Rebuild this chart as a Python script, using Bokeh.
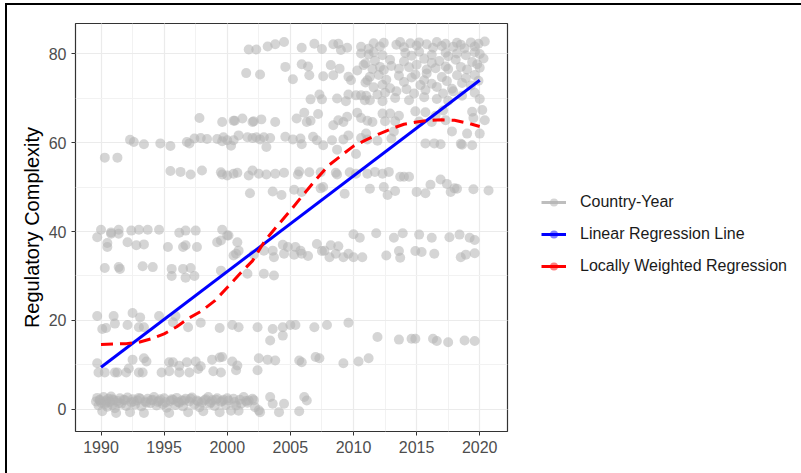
from bokeh.plotting import figure
from bokeh.models import Range1d, SingleIntervalTicker, Legend, LegendItem, ColumnDataSource
from bokeh.embed import file_html
from bokeh.resources import INLINE

# ---------------- data ----------------
# band near 0-3
yrs_a = [1989.6,1989.7,1989.8,1989.9,1990.0,1990.1,1990.2,1990.3,1990.4,1990.5,
         1990.6,1990.7,1990.8,1990.9,1991.0,1991.1,1991.2,1991.3,1991.5,1991.6,
         1991.8,1992.0,1992.1,1992.3,1992.4,1992.5,1992.7,1992.9,1993.0,1993.2,
         1993.4,1993.5,1993.7,1993.9,1994.0,1994.2,1994.4,1994.5,1994.7,1994.9,
         1995.0,1995.2,1995.4,1995.5,1995.7,1995.9,1996.0,1996.2,1996.4,1996.5,
         1996.7,1996.9,1997.0,1997.2,1997.4,1997.6,1997.8,1998.0,1998.1,1998.3,
         1998.5,1998.6,1998.8,1999.0,1999.2,1999.4,1999.5,1999.7,1999.9,2000.1,
         2000.3,2000.5,2000.7,2000.9,2001.1,2001.3,2001.5,2001.7,2002.0,2002.2,
         2002.5,2002.6,2003.4,2003.6,2004.1,2004.5,2005.7,2006.1,2006.3]
vals_a = [1.8,2.6,0.9,2.2,1.5,-0.4,2.8,1.2,2.0,0.6,
          2.4,1.7,2.9,1.0,2.1,0.3,-0.8,1.9,2.5,1.3,
          2.2,0.8,2.7,-0.6,1.6,2.3,1.1,2.0,2.6,0.7,
          -0.8,1.8,2.4,1.4,2.1,2.8,0.9,1.7,2.3,1.2,
          2.5,0.4,-0.8,1.9,2.2,1.0,2.6,1.5,2.0,0.7,
          2.4,-0.6,1.8,2.7,1.1,2.0,0.5,1.6,-0.4,2.3,
          2.8,1.3,2.1,0.8,2.5,-0.6,1.7,2.2,1.0,2.0,
          -0.3,2.4,0.9,-0.3,1.3,2.8,1.9,2.0,2.4,0.5,
          -0.2,-0.6,2.8,1.3,-0.6,1.3,-0.4,2.8,2.0]
yrs_a2 = [1989.9,1990.4,1990.9,1991.4,1991.9,1992.6,1993.1,1993.6,1994.1,1994.6,
          1995.1,1995.6,1996.1,1996.6,1997.1,1997.7,1998.2,1998.7,1999.1,1999.6,
          2000.0,2000.6,2001.0,2001.6,2002.1]
vals_a2 = [2.0,1.6,2.3,1.4,2.1,1.8,2.4,1.5,2.2,1.9,
           1.6,2.3,1.7,2.0,2.4,1.8,2.1,1.6,2.2,1.9,
           2.5,1.7,2.2,1.5,2.1]
# band near 8-12
yrs_b = [1989.7,1989.8,1990.3,1991.1,1991.3,1992.0,1992.2,1992.5,1993.0,1993.3,
         1993.4,1993.6,1994.8,1995.4,1995.4,1995.7,1996.2,1996.2,1996.8,1997.0,
         1997.5,1997.7,1997.9,1998.8,1998.9,1999.4,1999.6,1999.5,2000.4,2000.7,
         2000.8,2002.4,2002.5,2003.2,2003.8,2005.7,2005.9,2007.0,2007.3,2009.2,
         2010.4,2011.2]
vals_b = [10.4,8.3,8.3,8.3,8.3,8.3,9.2,11.2,8.3,8.3,
          11.5,10.8,8.3,10.6,8.6,10.6,9.8,8.3,10.6,8.3,
          10.8,9.1,9.7,11.2,8.6,11.7,11.8,8.3,10.8,8.8,
          9.9,8.8,11.5,11.2,11.0,11.0,10.6,11.8,11.5,10.4,
          10.8,11.5]
# band near 15-21
yrs_c = [1989.7,1990.1,1990.4,1991.0,1991.1,1992.1,1992.5,1993.0,1993.1,1993.4,
         1994.6,1995.7,1995.9,1996.9,1997.9,1999.4,2000.4,2000.9,2002.4,2003.4,
         2003.6,2004.4,2004.4,2005.0,2005.4,2006.9,2007.9,2009.6,2011.9,2013.6,
         2014.6,2014.9,2016.3,2016.6,2017.5,2018.8,2019.6]
vals_c = [21.0,18.1,18.3,21.0,19.3,19.0,21.7,18.5,20.7,18.5,
          21.0,19.6,21.0,18.5,19.5,18.3,19.0,18.5,18.5,15.5,
          18.1,18.5,16.6,19.0,19.0,18.5,19.0,19.5,16.3,15.7,
          15.9,15.9,15.9,15.4,15.1,15.5,15.4]
# band near 30-32
yrs_d = [1990.3,1991.4,1991.5,1993.3,1994.1,1995.6,1995.6,1996.5,1996.7,1997.1,
         1997.4,1999.5,2001.6,2002.9,2003.7]
vals_d = [31.8,32.0,31.6,32.2,32.0,31.6,30.0,31.6,29.6,31.8,
          30.0,31.2,30.5,30.5,30.1]
# band near 34-41
yrs_e = [1989.7,1990.0,1990.5,1990.5,1990.8,1990.8,1991.4,1991.4,1992.1,1992.4,
         1992.8,1993.0,1993.4,1993.7,1994.6,1995.3,1996.2,1996.5,1996.7,1996.7,
         1997.5,1997.6,1999.2,1999.5,1999.6,2000.0,2000.1,2000.5,2000.7,2000.8,
         2000.9,2002.1,2002.9,2003.6,2003.7,2004.4,2004.5,2004.8,2005.3,2005.4,
         2005.8,2005.9,2006.4,2007.1,2007.5,2007.7,2008.1,2008.2,2008.6,2008.8,
         2009.2,2009.6,2010.0,2010.0,2010.5,2010.7,2011.8,2012.6,2013.2,2013.6,
         2013.7,2013.9,2014.9,2015.2,2015.4,2016.2,2016.4,2017.6,2018.4,2018.5,
         2018.9,2019.2,2019.6,2019.6]
vals_e = [38.7,40.4,36.5,37.4,39.8,39.5,40.4,39.5,37.6,40.2,
          36.9,40.4,37.1,40.4,40.4,36.5,39.7,36.5,40.2,36.9,
          40.2,36.5,37.6,38.0,40.4,39.1,39.1,34.6,35.0,37.6,
          35.7,34.8,35.7,35.7,34.2,37.0,35.0,36.5,34.8,36.5,
          35.7,35.0,34.5,37.2,35.6,35.7,34.2,36.9,35.0,36.7,
          34.2,35.0,34.2,39.4,38.6,34.2,39.6,34.6,38.6,35.6,
          34.1,39.6,35.6,39.3,35.4,38.6,35.0,38.7,39.3,34.2,
          34.8,38.6,38.1,35.1]
# band near 48-54
yrs_f = [1995.5,1996.3,1997.1,1998.0,1999.6,1999.5,2000.0,2000.5,2000.8,2001.7,
         2001.8,2002.0,2002.5,2003.1,2003.6,2003.8,2004.3,2004.5,2005.3,2005.6,
         2005.7,2005.9,2006.5,2007.4,2007.4,2007.6,2008.6,2008.7,2009.3,2009.7,
         2010.2,2011.1,2011.3,2011.7,2012.3,2012.4,2012.7,2012.8,2013.3,2013.7,
         2014.0,2014.4,2015.0,2015.7,2016.1,2016.9,2017.4,2017.7,2018.0,2018.2,
         2019.5,2020.7]
vals_f = [53.6,53.4,52.8,53.7,52.8,53.3,52.6,53.0,53.2,52.6,
          48.6,53.7,53.0,52.8,49.0,53.0,48.2,53.2,49.4,52.8,
          53.5,48.9,53.3,53.3,49.7,50.0,53.2,52.8,48.5,53.3,
          53.0,53.0,49.6,53.4,53.0,50.0,48.2,53.4,49.1,52.3,
          52.3,52.3,48.9,48.6,50.5,51.7,50.7,48.9,49.7,49.6,
          49.5,49.2]
# band near 56-62
yrs_g = [1990.3,1991.3,1992.3,1992.6,1993.4,1994.7,1995.5,1996.8,1997.0,1997.4,
         1997.9,1998.4,1999.2,1999.6,1999.7,2000.0,2000.3,2000.5,2000.9,2001.6,
         2002.0,2002.3,2002.6,2002.9,2003.1,2003.4,2004.6,2005.2,2005.8,2005.9,
         2006.8,2007.1,2007.6,2008.3,2008.7,2009.2,2009.6,2010.2,2010.6,2011.0,
         2011.1,2011.9,2013.0,2013.2,2015.7,2016.4,2016.9,2017.8,2018.5,2018.6,
         2019.0,2019.4,2020.0]
vals_g = [56.6,56.6,60.6,60.1,59.6,59.8,59.2,60.1,59.8,60.9,
          61.0,60.8,60.8,60.3,61.2,60.5,59.3,60.5,61.6,61.2,
          61.0,61.2,60.7,61.2,59.0,61.0,61.3,60.7,60.9,59.6,
          61.3,60.5,59.4,60.5,58.4,60.7,61.6,57.4,61.0,62.0,
          60.7,60.4,60.9,62.5,59.8,59.8,59.6,62.5,59.7,59.5,
          62.0,59.4,62.0]
# band near 63-67
yrs_h = [1997.8,1999.6,2000.5,2000.6,2001.2,2002.0,2002.1,2002.7,2003.8,2005.5,
         2006.1,2006.3,2006.6,2007.2,2008.4,2008.8,2009.2,2009.5,2010.3,2010.6,
         2011.1,2011.5,2012.3,2012.5,2012.9,2013.3,2013.6,2014.9,2015.2,2015.7,
         2016.2,2016.5,2017.1,2017.3,2019.4,2019.5,2020.2,2020.4]
vals_h = [65.5,64.6,64.9,64.9,65.4,64.6,64.8,65.2,64.6,65.4,
          66.7,64.6,64.9,66.4,63.9,65.0,64.6,65.8,66.7,65.5,
          64.9,64.6,66.5,64.8,66.5,64.8,66.0,67.0,64.7,66.8,
          64.6,66.0,67.2,65.0,66.9,65.5,67.3,65.0]
# band near 68-72
yrs_i = [2006.6,2007.3,2007.5,2008.7,2009.4,2009.6,2010.2,2010.6,2010.9,2011.0,
         2011.3,2011.9,2012.3,2012.5,2013.3,2013.4,2014.4,2014.8,2015.6,2015.7,
         2016.6,2017.1,2017.5,2017.9,2018.6,2019.6,2020.0]
vals_i = [69.7,70.8,69.7,69.9,69.3,70.8,70.6,70.6,69.5,70.5,
          69.5,70.8,69.3,71.2,70.0,71.5,69.5,71.0,70.2,71.8,
          69.8,71.0,69.4,71.5,70.5,71.2,69.8]
# band near 72-79
yrs_j = [2001.5,2002.6,2004.6,2005.2,2005.9,2006.4,2006.5,2007.6,2008.2,2008.4,
         2008.9,2009.6,2009.8,2010.3,2010.8,2011.1,
         2010.95,2011.5,2011.7,2012.1,2012.4,2012.9,2013.0,2013.6,2014.0,2014.4,
         2015.0,2015.6,2015.8,2016.2,2016.5,2016.8,2017.3,2017.5,2018.1,2018.5,
         2019.0,2019.4,2019.8,2020.0,2020.3,
         2010.95,2011.3,2011.6,2012.0,2012.3,2012.6,2012.9,2013.6,2014.0,2014.2,
         2014.6,2014.9,2015.3,2015.6,2015.8,2016.2,2016.6,2017.0,2017.4,2017.8,
         2018.2,2018.6,2018.9,2019.3,2019.6,2019.9]
vals_j = [75.6,75.3,77.0,74.2,77.6,77.1,75.1,74.9,77.4,75.1,
          76.6,74.8,74.0,76.2,77.4,74.0,
          77.8,76.5,78.4,77.0,76.3,78.6,77.2,76.6,78.2,76.9,
          77.5,78.8,76.4,77.9,76.7,78.3,77.1,76.5,78.6,77.0,
          76.4,78.1,77.6,76.8,78.9,
          73.5,74.8,72.4,75.2,73.0,74.1,72.2,75.0,73.6,72.0,
          74.6,75.3,72.9,74.0,75.5,73.2,72.5,74.7,73.8,72.1,
          75.1,73.4,74.5,72.8,75.2,73.9]
# band near 79-83
yrs_k = [2001.7,2002.3,2003.2,2003.8,2004.5,2005.9,2006.9,2007.5,2008.4,2008.8,
         2009.0,2009.5,2010.6,2010.6,2011.2,
         2011.6,2012.1,2012.4,2013.4,2013.7,2014.0,2014.5,2015.0,2015.2,2015.8,
         2016.3,2016.6,2017.0,2017.3,2017.9,2018.2,2018.5,2018.8,2019.3,2019.6,
         2019.9,2020.4,
         2011.2,2011.6,2012.3,2014.1,2014.6,2015.2,2016.2,2017.3,2017.5,2018.2,
         2018.9,2019.6,2020.0]
vals_k = [80.9,80.9,81.6,82.1,82.6,81.3,82.2,81.0,82.1,82.2,
          80.8,81.3,81.5,80.0,81.1,
          82.3,81.6,82.4,82.0,82.6,81.4,82.3,81.8,82.5,82.1,
          81.3,82.6,81.7,82.2,81.5,82.4,82.0,81.2,82.5,81.6,
          82.2,82.7,
          79.8,80.3,79.6,80.1,79.5,80.4,79.7,80.2,79.4,80.0,
          79.6,80.3,79.9]

# linear regression line (end points)
lm_years = [1990, 2020]
lm_values = [9.5, 74.0]

# locally weighted regression curve
lo_years = [1990,1991,1992,1993,1994,1995,1996,1997,1998,1999,2000,2001,2002,2003,2004,
            2005,2006,2007,2008,2009,2010,2011,2012,2013,2014,2015,2016,2017,2018,2019,2020]
lo_values = [14.6,14.7,14.8,15.1,15.9,17.0,18.6,20.6,22.2,24.4,27.4,30.5,33.4,38.0,41.4,
             44.7,48.2,51.6,54.8,57.0,59.2,60.6,61.9,63.1,64.1,64.6,65.0,65.1,65.0,64.4,63.6]

x_ticks_interval = 5
y_ticks_interval = 20
labels = ["Country-Year", "Linear Regression Line", "Locally Weighted Regression"]

# ---------------- figure ----------------
xs = yrs_a + yrs_a2 + yrs_b + yrs_c + yrs_d + yrs_e + yrs_f + yrs_g + yrs_h + yrs_i + yrs_j + yrs_k
ys = vals_a + vals_a2 + vals_b + vals_c + vals_d + vals_e + vals_f + vals_g + vals_h + vals_i + vals_j + vals_k
src = ColumnDataSource(data=dict(x=xs, y=ys))
nan = float("nan")
key_src = ColumnDataSource(data=dict(x=[nan], y=[nan]))   # legend-key only, draws nothing

FONT = "Liberation Sans"

p = figure(frame_width=432, frame_height=408,
           x_range=Range1d(1987.98, 2022.2), y_range=Range1d(-4.95, 86.75),
           output_backend="svg", toolbar_location=None,
           min_border_left=68, min_border_top=18, min_border_bottom=42, min_border_right=0)
p.styles = {"margin-left": "5px", "margin-top": "3px",
            "border-top": "2px solid black", "border-left": "2px solid black"}

p.background_fill_color = "white"
p.outline_line_color = "#333333"
p.outline_line_width = 1.2

p.xaxis.ticker = SingleIntervalTicker(interval=x_ticks_interval, num_minor_ticks=2)
p.yaxis.ticker = SingleIntervalTicker(interval=y_ticks_interval, num_minor_ticks=2)
for ax in (p.xaxis, p.yaxis):
    ax.axis_line_color = None
    ax.major_tick_line_color = "#333333"
    ax.major_tick_in = 0
    ax.major_tick_out = 4
    ax.minor_tick_line_color = None
    ax.major_label_text_font = FONT
    ax.major_label_text_font_size = "16px"
    ax.major_label_text_color = "#4d4d4d"
p.yaxis.axis_label = "Regulatory Complexity"
p.yaxis.axis_label_text_font = FONT
p.yaxis.axis_label_text_font_size = "20px"
p.yaxis.axis_label_text_font_style = "normal"
p.yaxis.axis_label_text_color = "black"
p.yaxis.axis_label_standoff = 3

for g in (p.xgrid, p.ygrid):
    g.grid_line_color = "#ebebeb"
    g.grid_line_width = 1.2
    g.minor_grid_line_color = "#f2f2f2"
    g.minor_grid_line_width = 1.0

pts = p.scatter("x", "y", source=src, size=10, fill_color="#b3b3b3",
                fill_alpha=0.55, line_color=None)
lm = p.line(lm_years, lm_values, line_color="#0000ff", line_width=3)
lo = p.line(lo_years, lo_values, line_color="#ff0000", line_width=3, line_dash="12 7")

# legend-key glyphs (NaN data: nothing drawn in the plot)
g_line = p.line("x", "y", source=key_src, line_color="#bebebe", line_width=3)
g_dot = p.scatter("x", "y", source=key_src, size=10, fill_color="#b3b3b3", fill_alpha=0.55, line_color=None)
b_line = p.line("x", "y", source=key_src, line_color="#0000ff", line_width=3)
b_dot = p.scatter("x", "y", source=key_src, size=10, fill_color="#0000ff", fill_alpha=0.5, line_color=None)
r_line = p.line("x", "y", source=key_src, line_color="#ff0000", line_width=3)
r_dot = p.scatter("x", "y", source=key_src, size=10, fill_color="#ff0000", fill_alpha=0.5, line_color=None)

legend = Legend(items=[LegendItem(label=labels[0], renderers=[g_line, g_dot]),
                       LegendItem(label=labels[1], renderers=[b_line, b_dot]),
                       LegendItem(label=labels[2], renderers=[r_line, r_dot])],
                location=(34, 155), border_line_color=None, background_fill_alpha=0,
                label_text_font=FONT, label_text_font_size="16px", label_text_color="#1a1a1a",
                glyph_width=25, glyph_height=20, label_height=20, label_standoff=14,
                spacing=12, padding=10, margin=0)
p.add_layout(legend, "right")

open("out.html", "w").write(file_html(p, INLINE))
